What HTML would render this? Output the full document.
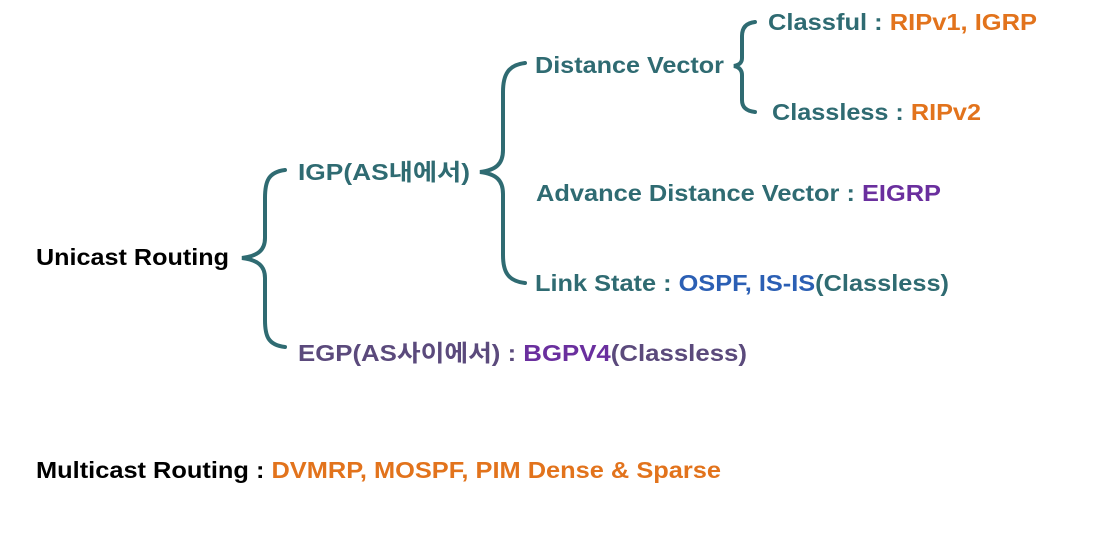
<!DOCTYPE html>
<html><head><meta charset="utf-8"><style>
html,body{margin:0;padding:0;background:#fff;}
svg{display:block;}
text{font-family:"Liberation Sans","Noto Sans CJK KR",sans-serif;font-weight:bold;font-size:23px;}
.t{fill:#2f6b72}.o{fill:#e2731c}.p{fill:#6a2f9e}.b{fill:#2b5fb4}.k{fill:#000}.e{fill:#5b4a7c}
</style></head><body>
<svg width="1110" height="540" viewBox="0 0 1110 540" xmlns="http://www.w3.org/2000/svg">
<g fill="none" stroke="#2f6b72" stroke-width="4" stroke-linecap="round">
<path d="M285,170 C268,172 265,182 265,198 L265,238 C265,250 258,256 242,258 C258,260 265,266 265,278 L265,320 C265,336 268,345 285,347"/>
<path d="M525,63 C508,65 503,75 503,92 L503,150 C503,164 496,170 480,172 C496,174 503,180 503,194 L503,255 C503,272 508,281 525,283"/>
<path d="M755,22 C746,23 742,28 742,36 L742,58 C742,63 739,65 734,66 C739,67 742,70 742,75 L742,100 C742,107 746,111 755,112"/>
</g>
<text x="768" y="30" textLength="269" lengthAdjust="spacingAndGlyphs"><tspan class="t">Classful : </tspan><tspan class="o">RIPv1, IGRP</tspan></text>
<text x="535" y="73" textLength="189" lengthAdjust="spacingAndGlyphs" class="t">Distance Vector</text>
<text x="772" y="120" textLength="209" lengthAdjust="spacingAndGlyphs"><tspan class="t">Classless : </tspan><tspan class="o">RIPv2</tspan></text>
<text x="298" y="180" textLength="172" lengthAdjust="spacingAndGlyphs" class="t">IGP(AS내에서)</text>
<text x="536" y="201" textLength="405" lengthAdjust="spacingAndGlyphs"><tspan class="t">Advance Distance Vector : </tspan><tspan class="p">EIGRP</tspan></text>
<text x="36" y="265" textLength="193" lengthAdjust="spacingAndGlyphs" class="k">Unicast Routing</text>
<text x="535" y="291" textLength="414" lengthAdjust="spacingAndGlyphs"><tspan class="t">Link State : </tspan><tspan class="b">OSPF, IS-IS</tspan><tspan class="t">(Classless)</tspan></text>
<text x="298" y="361" textLength="449" lengthAdjust="spacingAndGlyphs"><tspan class="e">EGP(AS사이에서) : </tspan><tspan class="p">BGPV4</tspan><tspan class="e">(Classless)</tspan></text>
<text x="36" y="478" textLength="685" lengthAdjust="spacingAndGlyphs"><tspan class="k">Multicast Routing : </tspan><tspan class="o">DVMRP, MOSPF, PIM Dense &amp; Sparse</tspan></text>
</svg>
</body></html>
